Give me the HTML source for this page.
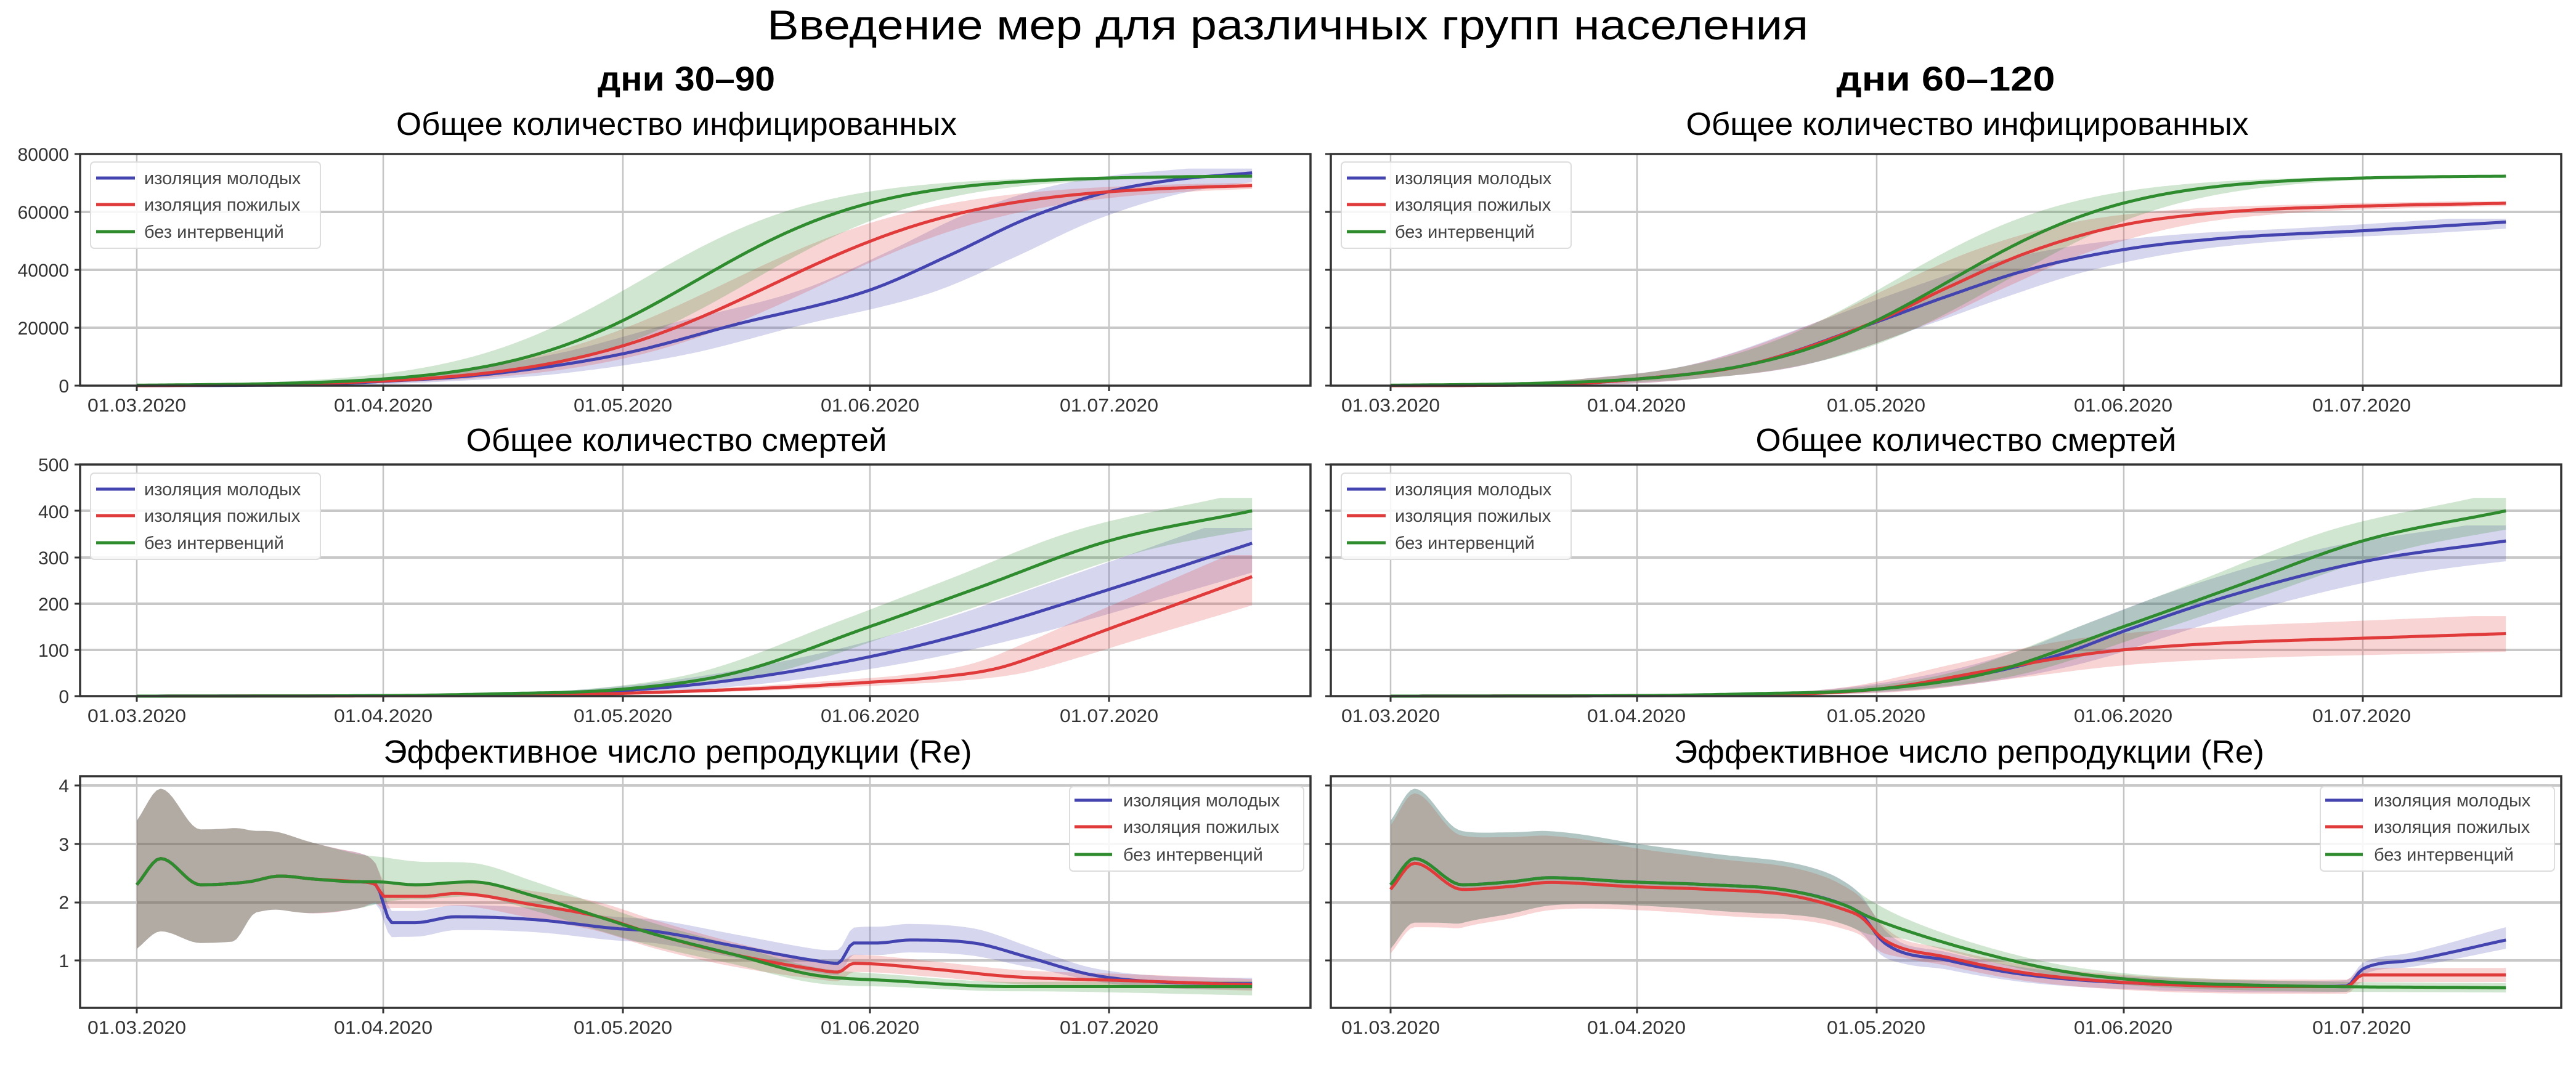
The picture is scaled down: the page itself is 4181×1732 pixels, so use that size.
<!DOCTYPE html>
<html><head><meta charset="utf-8"><style>
html,body{margin:0;padding:0;background:#fff}
svg{display:block}
text{font-family:"Liberation Sans",Arial,sans-serif}
</style></head><body>
<svg id="s" width="4181" height="1732" viewBox="0 0 4181 1732" xmlns="http://www.w3.org/2000/svg">
<rect width="4181" height="1732" fill="#fff"/>
<g id="grid"></g>
<g id="data"></g>
<g id="frames"></g>
<text x="2090" y="64" font-size="68" text-anchor="middle" textLength="1690" lengthAdjust="spacingAndGlyphs">Введение мер для различных групп населения</text>
<text x="1114" y="147" font-size="56" font-weight="bold" text-anchor="middle" textLength="288" lengthAdjust="spacingAndGlyphs">дни 30–90</text>
<text x="3158" y="147" font-size="56" font-weight="bold" text-anchor="middle" textLength="355" lengthAdjust="spacingAndGlyphs">дни 60–120</text>
<g font-size="52" text-anchor="middle">
<text x="1098" y="219" textLength="910" lengthAdjust="spacingAndGlyphs">Общее количество инфицированных</text>
<text x="3193" y="219" textLength="913" lengthAdjust="spacingAndGlyphs">Общее количество инфицированных</text>
<text x="1098" y="732" textLength="683" lengthAdjust="spacingAndGlyphs">Общее количество смертей</text>
<text x="3191" y="732" textLength="683" lengthAdjust="spacingAndGlyphs">Общее количество смертей</text>
<text x="1100" y="1238" textLength="955" lengthAdjust="spacingAndGlyphs">Эффективное число репродукции (Re)</text>
<text x="3196" y="1238" textLength="958" lengthAdjust="spacingAndGlyphs">Эффективное число репродукции (Re)</text>
</g>
<g font-size="30" fill="#333" text-anchor="end">
<text x="112" y="261">80000</text><text x="112" y="355">60000</text><text x="112" y="449">40000</text><text x="112" y="543">20000</text><text x="112" y="637">0</text>
<text x="112" y="765">500</text><text x="112" y="841">400</text><text x="112" y="916">300</text><text x="112" y="991">200</text><text x="112" y="1066">100</text><text x="112" y="1141">0</text>
<text x="112" y="1286">4</text><text x="112" y="1381">3</text><text x="112" y="1475">2</text><text x="112" y="1570">1</text>
</g>
<g font-size="30" fill="#333" text-anchor="middle">
<text x="222" y="668" textLength="160" lengthAdjust="spacingAndGlyphs">01.03.2020</text><text x="622" y="668" textLength="160" lengthAdjust="spacingAndGlyphs">01.04.2020</text><text x="1011" y="668" textLength="160" lengthAdjust="spacingAndGlyphs">01.05.2020</text><text x="1412" y="668" textLength="160" lengthAdjust="spacingAndGlyphs">01.06.2020</text><text x="1800" y="668" textLength="160" lengthAdjust="spacingAndGlyphs">01.07.2020</text>
<text x="2257" y="668" textLength="160" lengthAdjust="spacingAndGlyphs">01.03.2020</text><text x="2656" y="668" textLength="160" lengthAdjust="spacingAndGlyphs">01.04.2020</text><text x="3045" y="668" textLength="160" lengthAdjust="spacingAndGlyphs">01.05.2020</text><text x="3446" y="668" textLength="160" lengthAdjust="spacingAndGlyphs">01.06.2020</text><text x="3833" y="668" textLength="160" lengthAdjust="spacingAndGlyphs">01.07.2020</text>
<text x="222" y="1172" textLength="160" lengthAdjust="spacingAndGlyphs">01.03.2020</text><text x="622" y="1172" textLength="160" lengthAdjust="spacingAndGlyphs">01.04.2020</text><text x="1011" y="1172" textLength="160" lengthAdjust="spacingAndGlyphs">01.05.2020</text><text x="1412" y="1172" textLength="160" lengthAdjust="spacingAndGlyphs">01.06.2020</text><text x="1800" y="1172" textLength="160" lengthAdjust="spacingAndGlyphs">01.07.2020</text>
<text x="2257" y="1172" textLength="160" lengthAdjust="spacingAndGlyphs">01.03.2020</text><text x="2656" y="1172" textLength="160" lengthAdjust="spacingAndGlyphs">01.04.2020</text><text x="3045" y="1172" textLength="160" lengthAdjust="spacingAndGlyphs">01.05.2020</text><text x="3446" y="1172" textLength="160" lengthAdjust="spacingAndGlyphs">01.06.2020</text><text x="3833" y="1172" textLength="160" lengthAdjust="spacingAndGlyphs">01.07.2020</text>
<text x="222" y="1678" textLength="160" lengthAdjust="spacingAndGlyphs">01.03.2020</text><text x="622" y="1678" textLength="160" lengthAdjust="spacingAndGlyphs">01.04.2020</text><text x="1011" y="1678" textLength="160" lengthAdjust="spacingAndGlyphs">01.05.2020</text><text x="1412" y="1678" textLength="160" lengthAdjust="spacingAndGlyphs">01.06.2020</text><text x="1800" y="1678" textLength="160" lengthAdjust="spacingAndGlyphs">01.07.2020</text>
<text x="2257" y="1678" textLength="160" lengthAdjust="spacingAndGlyphs">01.03.2020</text><text x="2656" y="1678" textLength="160" lengthAdjust="spacingAndGlyphs">01.04.2020</text><text x="3045" y="1678" textLength="160" lengthAdjust="spacingAndGlyphs">01.05.2020</text><text x="3446" y="1678" textLength="160" lengthAdjust="spacingAndGlyphs">01.06.2020</text><text x="3833" y="1678" textLength="160" lengthAdjust="spacingAndGlyphs">01.07.2020</text>
</g>
<g id="legends" font-size="29" fill="#444">
<g transform="translate(130,0)">
<rect x="17" y="263" width="373" height="140" rx="6" fill="#fff" fill-opacity="0.85" stroke="#ddd" stroke-width="2"/>
<line x1="26" x2="89" y1="289" y2="289" stroke="#4444b0" stroke-width="5"/><text x="104" y="299">изоляция молодых</text>
<line x1="26" x2="89" y1="332" y2="332" stroke="#e03a3a" stroke-width="5"/><text x="104" y="342">изоляция пожилых</text>
<line x1="26" x2="89" y1="376" y2="376" stroke="#2e8b2e" stroke-width="5"/><text x="104" y="386">без интервенций</text>
</g>
<g transform="translate(2160,0)">
<rect x="17" y="263" width="373" height="140" rx="6" fill="#fff" fill-opacity="0.85" stroke="#ddd" stroke-width="2"/>
<line x1="26" x2="89" y1="289" y2="289" stroke="#4444b0" stroke-width="5"/><text x="104" y="299">изоляция молодых</text>
<line x1="26" x2="89" y1="332" y2="332" stroke="#e03a3a" stroke-width="5"/><text x="104" y="342">изоляция пожилых</text>
<line x1="26" x2="89" y1="376" y2="376" stroke="#2e8b2e" stroke-width="5"/><text x="104" y="386">без интервенций</text>
</g>
<g transform="translate(130,505)">
<rect x="17" y="263" width="373" height="140" rx="6" fill="#fff" fill-opacity="0.85" stroke="#ddd" stroke-width="2"/>
<line x1="26" x2="89" y1="289" y2="289" stroke="#4444b0" stroke-width="5"/><text x="104" y="299">изоляция молодых</text>
<line x1="26" x2="89" y1="332" y2="332" stroke="#e03a3a" stroke-width="5"/><text x="104" y="342">изоляция пожилых</text>
<line x1="26" x2="89" y1="376" y2="376" stroke="#2e8b2e" stroke-width="5"/><text x="104" y="386">без интервенций</text>
</g>
<g transform="translate(2160,505)">
<rect x="17" y="263" width="373" height="140" rx="6" fill="#fff" fill-opacity="0.85" stroke="#ddd" stroke-width="2"/>
<line x1="26" x2="89" y1="289" y2="289" stroke="#4444b0" stroke-width="5"/><text x="104" y="299">изоляция молодых</text>
<line x1="26" x2="89" y1="332" y2="332" stroke="#e03a3a" stroke-width="5"/><text x="104" y="342">изоляция пожилых</text>
<line x1="26" x2="89" y1="376" y2="376" stroke="#2e8b2e" stroke-width="5"/><text x="104" y="386">без интервенций</text>
</g>
<g transform="translate(1736,1014)">
<rect x="0" y="263" width="380" height="137" rx="6" fill="#fff" fill-opacity="0.85" stroke="#ddd" stroke-width="2"/>
<line x1="8" x2="69" y1="285" y2="285" stroke="#4444b0" stroke-width="5"/><text x="87" y="295">изоляция молодых</text>
<line x1="8" x2="69" y1="328" y2="328" stroke="#e03a3a" stroke-width="5"/><text x="87" y="338">изоляция пожилых</text>
<line x1="8" x2="69" y1="373" y2="373" stroke="#2e8b2e" stroke-width="5"/><text x="87" y="383">без интервенций</text>
</g>
<g transform="translate(3766,1014)">
<rect x="0" y="263" width="380" height="137" rx="6" fill="#fff" fill-opacity="0.85" stroke="#ddd" stroke-width="2"/>
<line x1="8" x2="69" y1="285" y2="285" stroke="#4444b0" stroke-width="5"/><text x="87" y="295">изоляция молодых</text>
<line x1="8" x2="69" y1="328" y2="328" stroke="#e03a3a" stroke-width="5"/><text x="87" y="338">изоляция пожилых</text>
<line x1="8" x2="69" y1="373" y2="373" stroke="#2e8b2e" stroke-width="5"/><text x="87" y="383">без интервенций</text>
</g>
</g>
</svg>
<script>
(function(){
var NS="http://www.w3.org/2000/svg";
function el(p,tag,a){var e=document.createElementNS(NS,tag);for(var k in a)e.setAttribute(k,a[k]);p.appendChild(e);return e;}
var grid=document.getElementById('grid'),data=document.getElementById('data'),fr=document.getElementById('frames');
var B='#4444b0',R='#e03a3a',G='#2e8b2e';
function mono(pts){
 var n=pts.length,xs=pts.map(p=>p[0]),ys=pts.map(p=>p[1]),d=[],m=[];
 for(var i=0;i<n-1;i++)d.push((ys[i+1]-ys[i])/(xs[i+1]-xs[i]));
 m[0]=d[0];m[n-1]=d[n-2];
 for(i=1;i<n-1;i++){m[i]=(d[i-1]*d[i]<=0)?0:(d[i-1]+d[i])/2;}
 for(i=0;i<n-1;i++){if(d[i]===0){m[i]=0;m[i+1]=0;continue;}var a=m[i]/d[i],b=m[i+1]/d[i],s=a*a+b*b;if(s>9){var t=3/Math.sqrt(s);m[i]=t*a*d[i];m[i+1]=t*b*d[i];}}
 return function(x){if(x<=xs[0])return ys[0];if(x>=xs[n-1])return ys[n-1];var i=0;while(x>xs[i+1])i++;var h=xs[i+1]-xs[i],t=(x-xs[i])/h,t2=t*t,t3=t2*t;
  return (2*t3-3*t2+1)*ys[i]+(t3-2*t2+t)*h*m[i]+(-2*t3+3*t2)*ys[i+1]+(t3-t2)*h*m[i+1];};
}
function logi(L,k,t0){return function(t){return L/(1+Math.exp(-k*(t-t0)));};}
var panels=[
 {x0:130,x1:2127,off:0,y0:250,y1:626,ymap:v=>626-v/80000*376,hy:[344,438,532],ticks:[250,344,438,532,626]},
 {x0:2160,x1:4157,off:2035,y0:250,y1:626,ymap:v=>626-v/80000*376,hy:[344,438,532],ticks:[250,344,438,532,626]},
 {x0:130,x1:2127,off:0,y0:754,y1:1130,ymap:v=>1130-v/500*376,hy:[829,905,980,1055],ticks:[754,829,905,980,1055,1130]},
 {x0:2160,x1:4157,off:2035,y0:754,y1:1130,ymap:v=>1130-v/500*376,hy:[829,905,980,1055],ticks:[754,829,905,980,1055,1130]},
 {x0:130,x1:2127,off:0,y0:1260,y1:1636,ymap:v=>1559-(v-1)*94.5,hy:[1275,1370,1465,1559],ticks:[1275,1370,1465,1559]},
 {x0:2160,x1:4157,off:2035,y0:1260,y1:1636,ymap:v=>1559-(v-1)*94.5,hy:[1275,1370,1465,1559],ticks:[1275,1370,1465,1559]}
];
var xt=[222,622,1011,1412,1800];
panels.forEach(function(p){
 xt.forEach(function(x){el(grid,'line',{x1:x+p.off,x2:x+p.off,y1:p.y0,y2:p.y1,stroke:'#c4c4c4','stroke-width':2.5});
  el(fr,'line',{x1:x+p.off,x2:x+p.off,y1:p.y1,y2:p.y1+9,stroke:'#333','stroke-width':3});});
 p.hy.forEach(function(y){el(grid,'line',{x1:p.x0,x2:p.x1,y1:y,y2:y,stroke:'#c8c8c8','stroke-width':4});});
 p.ticks.forEach(function(y){el(fr,'line',{x1:p.x0-9,x2:p.x0,y1:y,y2:y,stroke:'#333','stroke-width':3});});
 el(fr,'rect',{x:p.x0,y:p.y0,width:p.x1-p.x0,height:p.y1-p.y0,fill:'none',stroke:'#333','stroke-width':3.5});
});
function X(p,t){return 222+t*12.93+p.off;}
function draw(p,s){
 var up=[],lo=[],ln=[];
 for(var t=0;t<=140.001;t+=0.5){
  var v=s.f(t),u,l;
  if(s.wu){u=v+s.wu(t);l=v-s.wd(t);}
  else{u=s.f(Math.min(t+s.s,160))*(1+s.r);l=s.f(Math.max(t-s.s,0))*(1-s.r);}
  var x=X(p,t).toFixed(1);
  up.push(x+','+p.ymap(u).toFixed(1));lo.push(x+','+p.ymap(l).toFixed(1));ln.push(x+','+p.ymap(v).toFixed(1));
 }
 el(data,'polygon',{points:up.concat(lo.reverse()).join(' '),fill:s.c,'fill-opacity':0.22,stroke:'none'});
 s._ln=ln;
}
function lines(p,arr){arr.forEach(function(s){el(data,'polyline',{points:s._ln.join(' '),fill:'none',stroke:s.c,'stroke-width':5,'stroke-linejoin':'round'});});}
function run(p,arr){arr.forEach(function(s){draw(p,s);});lines(p,arr);}

var gI=logi(72500,0.087,70.2);
run(panels[0],[
 {c:B,f:mono([[0,0],[20,300],[31,1500],[45,4200],[61,11000],[75,21000],[92,33000],[102,45000],[112,58000],[122,67000],[130,71000],[140,73500]]),s:8,r:0.02},
 {c:R,f:function(t){return 70000/(1+Math.exp(-0.0745*(t-79.7)))-70000/(1+Math.exp(0.0745*79.7));},s:6,r:0.01},
 {c:G,f:gI,s:7,r:0}
]);
run(panels[1],[
 {c:B,f:mono([[0,0],[20,400],[31,2300],[45,7300],[61,22000],[70,31000],[80,40000],[92,47000],[105,51000],[122,53500],[140,56500]]),s:7,r:0.02},
 {c:R,f:mono([[0,0],[20,400],[31,2300],[45,7300],[61,22300],[70,34000],[80,46000],[92,55500],[105,60000],[122,62000],[140,63000]]),s:7,r:0.01},
 {c:G,f:gI,s:7,r:0}
]);
var gD=mono([[0,0],[30,1],[45,5],[61,15],[75,50],[92,150],[105,230],[122,335],[140,400]]);
run(panels[2],[
 {c:B,f:mono([[0,0],[40,2],[61,12],[75,35],[92,85],[105,140],[122,230],[140,330]]),s:6,r:0.1},
 {c:R,f:mono([[0,0],[50,2],[61,6],[80,18],[92,30],[100,40],[108,60],[115,100],[122,145],[130,195],[140,258]]),s:3,r:0.18},
 {c:G,f:gD,s:4,r:0.07}
]);
run(panels[3],[
 {c:B,f:mono([[0,0],[40,2],[61,15],[75,50],[85,95],[92,140],[105,215],[122,290],[140,335]]),s:5,r:0.1},
 {c:R,f:mono([[0,0],[40,2],[61,15],[75,55],[85,85],[92,100],[105,115],[122,125],[140,135]]),s:4,r:0.28},
 {c:G,f:gD,s:4,r:0.07}
]);
var com=[[0,2.3],[3,2.75],[8,2.3],[14,2.35],[18,2.45],[22,2.4],[28,2.35]];
var wuC=[[0,1.1],[3,1.2],[8,0.95],[12,0.95],[15,0.85],[20,0.68],[25,0.55],[29,0.45]];
var wdC=[[0,1.1],[3,1.25],[8,1.0],[12,1.0],[15,0.55],[20,0.6],[28,0.45]];
run(panels[4],[
 {c:B,f:mono(com.concat([[30,2.3],[32,1.65],[35,1.65],[40,1.75],[50,1.7],[60,1.55],[65,1.5],[75,1.25],[85,1.0],[88,0.95],[90,1.3],[93,1.3],[97,1.35],[105,1.3],[112,1.05],[120,0.75],[130,0.62],[140,0.6]])),
  wu:mono(wuC.concat([[32,0.2],[85,0.2],[92,0.28],[105,0.25],[120,0.12],[140,0.1]])),wd:mono(wdC.concat([[32,0.25],[85,0.2],[105,0.22],[120,0.1],[140,0.1]]))},
 {c:R,f:mono(com.concat([[30,2.3],[31,2.1],[36,2.1],[40,2.15],[50,1.95],[58,1.75],[65,1.45],[75,1.1],[85,0.85],[88,0.8],[90,0.95],[100,0.85],[110,0.72],[125,0.65],[140,0.58]])),
  wu:mono(wuC.concat([[32,0.2],[60,0.25],[90,0.15],[140,0.1]])),wd:mono(wdC.concat([[32,0.2],[60,0.25],[90,0.15],[140,0.1]]))},
 {c:G,f:mono(com.concat([[30,2.35],[35,2.3],[42,2.35],[50,2.1],[58,1.75],[65,1.45],[75,1.1],[85,0.75],[95,0.65],[110,0.55],[140,0.55]])),
  wu:mono(wuC.concat([[35,0.4],[50,0.25],[80,0.15],[110,0.08],[140,0.1]])),wd:mono(wdC.concat([[35,0.25],[50,0.25],[80,0.15],[110,0.08],[140,0.15]]))}
]);
var comR=[[0,2.3],[3,2.75],[9,2.3],[15,2.35],[20,2.42],[30,2.35],[40,2.3],[50,2.2],[57,1.95]];
var wuR=[[0,1.1],[3,1.2],[8,0.95],[15,0.85],[25,0.75],[35,0.6],[45,0.5],[55,0.45],[60,0.3]];
var wdR=[[0,1.1],[3,1.1],[8,0.7],[15,0.55],[30,0.4],[45,0.45],[55,0.35],[60,0.3]];
run(panels[5],[
 {c:B,f:mono(comR.concat([[59,1.8],[62,1.3],[70,1.0],[80,0.75],[95,0.6],[115,0.55],[120,0.56],[122,0.85],[128,1.0],[140,1.35]])),
  wu:mono(wuR.concat([[65,0.15],[120,0.1],[140,0.22]])),wd:mono(wdR.concat([[65,0.18],[120,0.1],[140,0.15]]))},
 {c:R,f:mono(comR.map(p=>[p[0],p[1]-0.08]).concat([[59,1.75],[62,1.35],[70,1.05],[80,0.78],[95,0.6],[115,0.55],[120,0.55],[122,0.75],[140,0.75]])),
  wu:mono(wuR.concat([[65,0.15],[140,0.12]])),wd:mono(wdR.concat([[65,0.15],[140,0.12]]))},
 {c:G,f:mono(comR.concat([[60,1.75],[65,1.5],[75,1.1],[85,0.8],[95,0.65],[110,0.57],[140,0.53]])),
  wu:mono(wuR.concat([[65,0.2],[90,0.1],[140,0.08]])),wd:mono(wdR.concat([[65,0.15],[90,0.1],[140,0.08]]))}
]);
})();
</script>
</body></html>
